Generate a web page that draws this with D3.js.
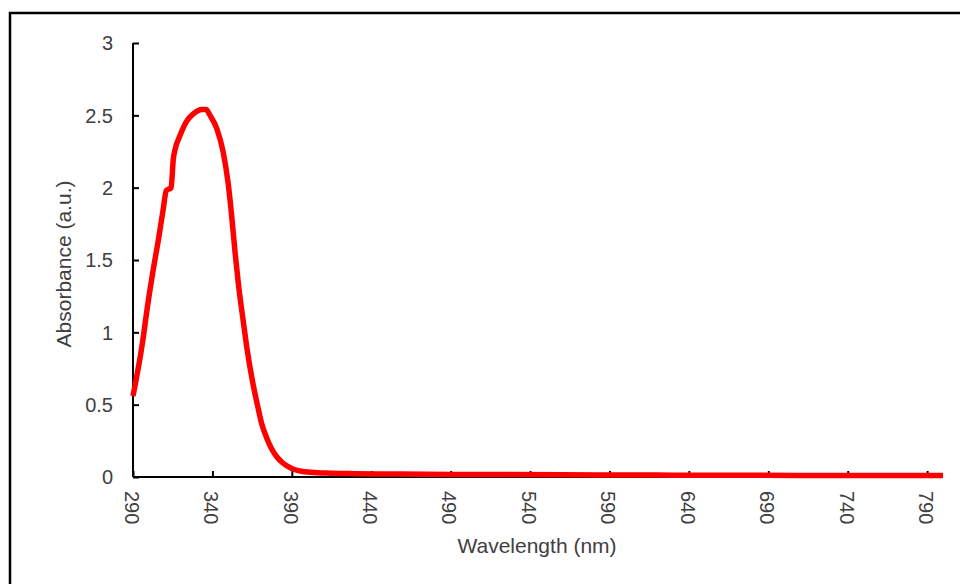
<!DOCTYPE html>
<html><head><meta charset="utf-8">
<script src="https://cdn.jsdelivr.net/npm/d3@7"></script>
<style>body{margin:0;background:#fff}svg{display:block}text{font-family:"Liberation Sans",Arial,sans-serif;fill:#404040}</style>
</head><body><svg id="c" width="960" height="584"></svg>
<script>
const wavelength = [290,296,299,303,306,309,311,314,315.4,316.4,319.6,323.8,328,333.3,336,338.5,342.7,346.7,349.8,352,354.2,356.3,359.5,361.6,365.8,368.7,371,374.2,377,380.5,384,388,392,396,400,412,430,458,490,521,560,584,620,647,680,710,750,800];
const absorbance = [0.56,0.93,1.17,1.45,1.64,1.85,1.98,2.00,2.20,2.26,2.36,2.46,2.51,2.54,2.54,2.50,2.41,2.25,2.04,1.82,1.56,1.34,1.07,0.90,0.63,0.48,0.37,0.27,0.20,0.14,0.10,0.07,0.05,0.04,0.034,0.027,0.023,0.02,0.018,0.017,0.015,0.014,0.013,0.012,0.012,0.011,0.01,0.01];
const xTicks = [290,340,390,440,490,540,590,640,690,740,790];
const yTicks = [0,0.5,1,1.5,2,2.5,3];
const yTickLabels = ["0","0.5","1","1.5","2","2.5","3"];

const svg = d3.select("#c");
svg.append("rect").attr("x",10).attr("y",13).attr("width",980).attr("height",600)
  .attr("fill","#fff").attr("stroke","#000").attr("stroke-width",2.5);

const x = d3.scaleLinear().domain([290,800]).range([133,943]);
const y = d3.scaleLinear().domain([0,3]).range([477,43]);

// y axis
const ya = svg.append("g").attr("transform","translate(133,0)")
  .call(d3.axisRight(y).tickValues(yTicks).tickSize(6).tickFormat(""));
ya.select(".domain").attr("stroke","#000").attr("stroke-width",2).attr("d","M0,43V477");
ya.selectAll(".tick line").attr("stroke","#000").attr("stroke-width",2);
svg.append("g").selectAll("text").data(yTicks).join("text")
  .attr("x",113).attr("y",d=>y(d)).attr("dy","0.36em").attr("text-anchor","end")
  .style("font-size","20px").text((d,i)=>yTickLabels[i]);

// x axis
const xa = svg.append("g").attr("transform","translate(0,477)")
  .call(d3.axisTop(x).tickValues(xTicks).tickSize(6).tickFormat(""));
xa.select(".domain").attr("stroke","#000").attr("stroke-width",2).attr("d","M133,0H943");
xa.selectAll(".tick line").attr("stroke","#000").attr("stroke-width",2);
svg.append("g").selectAll("text").data(xTicks).join("text")
  .attr("transform",d=>`translate(${x(d)-1},491) rotate(90)`)
  .attr("dy","0.36em").attr("text-anchor","start")
  .style("font-size","20px").text(d=>d);

// line
const pts = wavelength.map((w,i)=>[w,absorbance[i]]);
svg.append("path").datum(pts)
  .attr("fill","none").attr("stroke","#ff0000").attr("stroke-width",5.5)
  .attr("stroke-linejoin","round").attr("stroke-linecap","butt")
  .attr("d",d3.line().x(d=>x(d[0])).y(d=>y(d[1])).curve(d3.curveMonotoneX));

// titles
svg.append("text").attr("x",537).attr("y",553).attr("text-anchor","middle")
  .style("font-size","21px").text("Wavelength (nm)");
svg.append("text").attr("transform","translate(71,264) rotate(-90)").attr("text-anchor","middle")
  .style("font-size","21px").text("Absorbance (a.u.)");
</script></body></html>
